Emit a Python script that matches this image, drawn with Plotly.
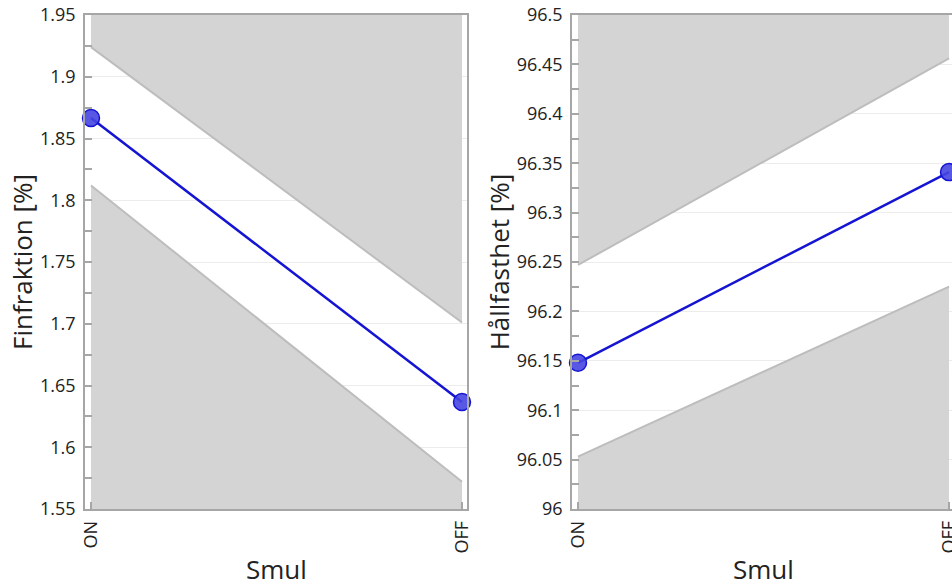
import plotly.graph_objects as go

# Factor levels on the x axis
levels = ["ON", "OFF"]
x_title = "Smul"

# Left panel: Finfraktion [%]
fin_mean = [1.8666, 1.6366]
fin_upper = [1.924, 1.701]
fin_lower = [1.812, 1.572]
fin_range = [1.55, 1.95]

# Right panel: Hållfasthet [%]
hal_mean = [96.148, 96.341]
hal_upper = [96.247, 96.456]
hal_lower = [96.053, 96.225]
hal_range = [96.0, 96.5]

W, H = 952, 586
ML, MT, MB = 85, 15, 77
PW = W - ML
PH = H - MT - MB
FONT = "Open Sans"
TXT = "#222222"
AXIS = "#a6a6a6"
FILL = "#d4d4d4"
EDGE = "#bdbdbd"
BLUE = "#1414d2"

fig = go.Figure()

x_idx = [0, 1]


def add_panel(xa, ya, mean, upper, lower, yr):
    xref = "x" if xa == 1 else f"x{xa}"
    yref = "y" if ya == 1 else f"y{ya}"
    # shaded area above the upper limit
    fig.add_trace(go.Scatter(
        x=x_idx + x_idx[::-1], y=upper + [yr[1], yr[1]],
        fill="toself", fillcolor=FILL, mode="none",
        hoverinfo="skip", showlegend=False, xaxis=xref, yaxis=yref))
    # shaded area below the lower limit
    fig.add_trace(go.Scatter(
        x=x_idx + x_idx[::-1], y=lower + [yr[0], yr[0]],
        fill="toself", fillcolor=FILL, mode="none",
        hoverinfo="skip", showlegend=False, xaxis=xref, yaxis=yref))
    # limit edges
    for lim in (upper, lower):
        fig.add_trace(go.Scatter(
            x=x_idx, y=lim, mode="lines",
            line=dict(color=EDGE, width=2),
            hoverinfo="skip", showlegend=False, xaxis=xref, yaxis=yref))
    # mean line with markers
    fig.add_trace(go.Scatter(
        x=x_idx, y=mean, mode="lines+markers",
        line=dict(color=BLUE, width=2.5),
        marker=dict(size=17, color="rgba(70,70,225,0.9)",
                    line=dict(color=BLUE, width=1.5)),
        showlegend=False, xaxis=xref, yaxis=yref, cliponaxis=False))


add_panel(1, 1, fin_mean, fin_upper, fin_lower, fin_range)
add_panel(2, 2, hal_mean, hal_upper, hal_lower, hal_range)

xr = [-0.0162, 1.0135]
dom1 = [0, (467 - ML) / PW]
dom2 = [(572 - ML) / PW, 1.0]
half = (467 - ML) / PW / 2

xcommon = dict(
    tickmode="array", tickvals=x_idx, ticktext=levels,
    tickangle=-90, ticks="inside", ticklen=7, tickcolor=AXIS, tickwidth=1.5,
    showgrid=False, zeroline=False, showline=True, linecolor=AXIS, linewidth=1.5,
    tickfont=dict(family=FONT, size=18, color=TXT),
    ticklabeloverflow="allow", automargin=False, ticklabelstandoff=3,
    fixedrange=True,
)
ycommon = dict(
    ticks="inside", ticklen=7, tickcolor=AXIS, tickwidth=1.5,
    showgrid=True, gridcolor="#ececec", gridwidth=1,
    zeroline=False, showline=True, linecolor=AXIS, linewidth=1.5,
    tickfont=dict(family=FONT, size=18, color=TXT), ticklabelstandoff=4,
    minor=dict(ticks="inside", ticklen=7, tickcolor=AXIS, tickwidth=1.5, showgrid=False),
    automargin=False,
    fixedrange=True,
)

# x-axis titles placed below the rotated category labels
title_y = -60 / PH
annotations = [
    dict(text=x_title, xref="paper", yref="paper",
         x=d[0] + half, y=title_y, xanchor="center", yanchor="middle",
         showarrow=False, font=dict(family=FONT, size=26, color=TXT))
    for d in (dom1, dom2)
]

fig.update_layout(
    width=W, height=H,
    margin=dict(l=ML, r=0, t=MT, b=MB, pad=0),
    paper_bgcolor="white", plot_bgcolor="white",
    annotations=annotations,
    xaxis=dict(domain=dom1, range=xr, mirror=True, anchor="y", **xcommon),
    yaxis=dict(range=fin_range, dtick=0.05, mirror=True, anchor="x",
               minor_dtick=0.025,
               title=dict(text="Finfraktion [%]", font=dict(family=FONT, size=26, color=TXT), standoff=0),
               **ycommon),
    xaxis2=dict(domain=dom2, range=[-0.0162, 1.008], mirror=True, anchor="y2", **xcommon),
    yaxis2=dict(range=hal_range, dtick=0.05, mirror=False, anchor="x2",
                minor_dtick=0.025,
                title=dict(text="Hållfasthet [%]", font=dict(family=FONT, size=26, color=TXT), standoff=0),
                **ycommon),
)

fig.write_html("out.html")
